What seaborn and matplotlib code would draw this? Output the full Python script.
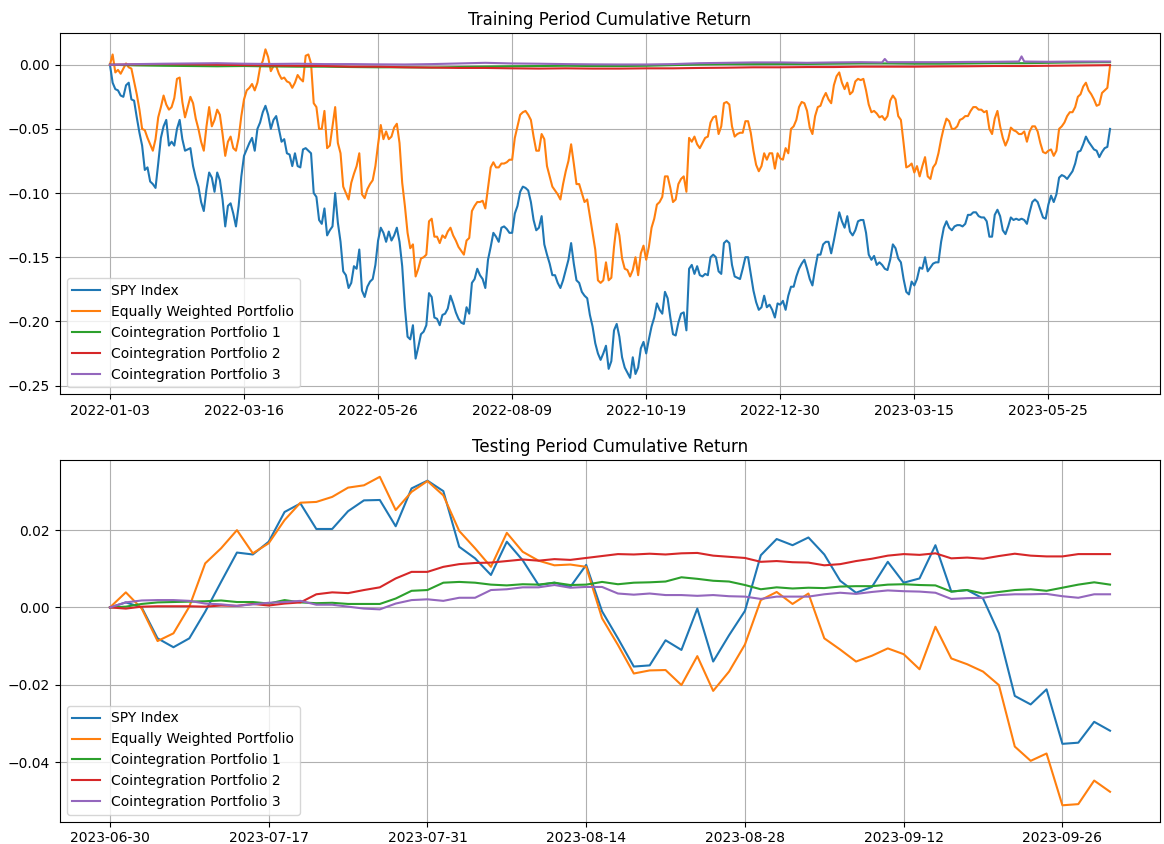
import numpy as np
import pandas as pd
import seaborn as sns
import matplotlib
matplotlib.use("Agg")
import matplotlib.pyplot as plt

#%%  values (cumulative returns)

series_names = ['SPY Index', 'Equally Weighted Portfolio', 'Cointegration Portfolio 1',
                'Cointegration Portfolio 2', 'Cointegration Portfolio 3']

train_tick_labels = ['2022-01-03', '2022-03-16', '2022-05-26', '2022-08-09',
                     '2022-10-19', '2022-12-30', '2023-03-15', '2023-05-25']
test_tick_labels = ['2023-06-30', '2023-07-17', '2023-07-31', '2023-08-14',
                    '2023-08-28', '2023-09-12', '2023-09-26']

# training period, one value per trading day (374 days)
train_spy = [
    0.000, -0.014, -0.019, -0.020, -0.024, -0.025, -0.016, -0.014, -0.027, -0.028,
    -0.041, -0.053, -0.063, -0.082, -0.080, -0.091, -0.093, -0.096, -0.077, -0.057,
    -0.048, -0.043, -0.063, -0.060, -0.063, -0.050, -0.043, -0.058, -0.067, -0.066,
    -0.065, -0.079, -0.088, -0.095, -0.107, -0.114, -0.097, -0.084, -0.088, -0.099,
    -0.084, -0.090, -0.105, -0.126, -0.110, -0.108, -0.116, -0.126, -0.110, -0.087,
    -0.071, -0.066, -0.061, -0.057, -0.067, -0.050, -0.045, -0.037, -0.032, -0.039,
    -0.050, -0.043, -0.040, -0.050, -0.060, -0.058, -0.069, -0.070, -0.079, -0.069,
    -0.079, -0.080, -0.066, -0.065, -0.067, -0.069, -0.100, -0.103, -0.121, -0.124,
    -0.112, -0.133, -0.129, -0.126, -0.100, -0.123, -0.138, -0.161, -0.164, -0.174,
    -0.170, -0.157, -0.159, -0.144, -0.176, -0.181, -0.173, -0.169, -0.167, -0.156,
    -0.137, -0.127, -0.131, -0.138, -0.130, -0.137, -0.133, -0.127, -0.138, -0.157,
    -0.189, -0.212, -0.214, -0.203, -0.229, -0.220, -0.210, -0.208, -0.203, -0.178,
    -0.181, -0.197, -0.198, -0.203, -0.195, -0.194, -0.190, -0.180, -0.186, -0.193,
    -0.198, -0.201, -0.202, -0.189, -0.194, -0.170, -0.167, -0.159, -0.164, -0.167,
    -0.174, -0.152, -0.142, -0.131, -0.134, -0.138, -0.127, -0.126, -0.128, -0.131,
    -0.131, -0.116, -0.110, -0.099, -0.095, -0.096, -0.098, -0.107, -0.121, -0.129,
    -0.127, -0.118, -0.140, -0.148, -0.155, -0.164, -0.164, -0.170, -0.174, -0.168,
    -0.160, -0.152, -0.139, -0.155, -0.168, -0.170, -0.177, -0.180, -0.182, -0.195,
    -0.204, -0.217, -0.225, -0.230, -0.225, -0.219, -0.237, -0.231, -0.207, -0.202,
    -0.212, -0.228, -0.236, -0.240, -0.244, -0.228, -0.241, -0.236, -0.221, -0.216,
    -0.225, -0.214, -0.204, -0.197, -0.186, -0.191, -0.194, -0.177, -0.182, -0.197,
    -0.210, -0.211, -0.201, -0.194, -0.193, -0.207, -0.159, -0.156, -0.163, -0.157,
    -0.164, -0.165, -0.163, -0.164, -0.150, -0.148, -0.150, -0.161, -0.163, -0.139,
    -0.137, -0.139, -0.156, -0.165, -0.166, -0.167, -0.159, -0.150, -0.150, -0.163,
    -0.176, -0.185, -0.191, -0.189, -0.180, -0.189, -0.187, -0.191, -0.197, -0.186,
    -0.187, -0.184, -0.191, -0.180, -0.173, -0.173, -0.165, -0.159, -0.155, -0.152,
    -0.159, -0.167, -0.172, -0.159, -0.148, -0.148, -0.140, -0.138, -0.138, -0.147,
    -0.137, -0.126, -0.115, -0.122, -0.127, -0.118, -0.130, -0.133, -0.129, -0.122,
    -0.121, -0.121, -0.131, -0.148, -0.152, -0.149, -0.156, -0.154, -0.156, -0.159,
    -0.160, -0.152, -0.140, -0.143, -0.151, -0.154, -0.167, -0.177, -0.179, -0.169,
    -0.172, -0.167, -0.158, -0.159, -0.150, -0.161, -0.158, -0.155, -0.154, -0.154,
    -0.138, -0.127, -0.122, -0.127, -0.129, -0.126, -0.125, -0.125, -0.126, -0.124,
    -0.117, -0.117, -0.115, -0.115, -0.118, -0.119, -0.119, -0.122, -0.134, -0.134,
    -0.117, -0.113, -0.118, -0.129, -0.132, -0.126, -0.119, -0.121, -0.120, -0.121,
    -0.120, -0.121, -0.124, -0.115, -0.107, -0.105, -0.107, -0.113, -0.119, -0.120,
    -0.109, -0.102, -0.107, -0.101, -0.088, -0.086, -0.087, -0.089, -0.086, -0.083,
    -0.077, -0.068, -0.067, -0.062, -0.056, -0.060, -0.063, -0.066, -0.067, -0.072,
    -0.068, -0.065, -0.064, -0.050,
]

train_ew = [
    0.000, 0.008, -0.006, -0.004, -0.007, -0.003, 0.001, -0.002, -0.003, -0.013,
    -0.023, -0.035, -0.050, -0.051, -0.057, -0.062, -0.067, -0.058, -0.041, -0.033,
    -0.024, -0.031, -0.035, -0.033, -0.026, -0.011, -0.010, -0.029, -0.041, -0.033,
    -0.025, -0.030, -0.042, -0.050, -0.060, -0.067, -0.048, -0.033, -0.048, -0.043,
    -0.035, -0.039, -0.054, -0.071, -0.060, -0.056, -0.065, -0.067, -0.057, -0.040,
    -0.027, -0.020, -0.018, -0.015, -0.020, -0.014, -0.002, 0.003, 0.012, 0.006,
    -0.005, -0.001, -0.001, -0.007, -0.011, -0.010, -0.013, -0.014, -0.018, -0.014,
    -0.008, -0.011, -0.013, 0.007, 0.008, 0.001, -0.030, -0.033, -0.050, -0.050,
    -0.036, -0.065, -0.063, -0.048, -0.033, -0.061, -0.069, -0.095, -0.100, -0.105,
    -0.092, -0.085, -0.079, -0.069, -0.101, -0.104, -0.097, -0.093, -0.090, -0.079,
    -0.062, -0.047, -0.058, -0.052, -0.058, -0.056, -0.049, -0.046, -0.061, -0.092,
    -0.110, -0.131, -0.143, -0.140, -0.165, -0.159, -0.151, -0.150, -0.148, -0.122,
    -0.120, -0.134, -0.134, -0.139, -0.133, -0.135, -0.130, -0.127, -0.133, -0.137,
    -0.142, -0.145, -0.148, -0.137, -0.135, -0.114, -0.110, -0.107, -0.107, -0.106,
    -0.112, -0.096, -0.080, -0.076, -0.080, -0.080, -0.077, -0.077, -0.076, -0.074,
    -0.074, -0.057, -0.048, -0.039, -0.037, -0.036, -0.039, -0.043, -0.056, -0.067,
    -0.067, -0.054, -0.058, -0.079, -0.087, -0.095, -0.098, -0.101, -0.105, -0.093,
    -0.083, -0.075, -0.062, -0.077, -0.093, -0.093, -0.100, -0.107, -0.105, -0.118,
    -0.131, -0.144, -0.168, -0.170, -0.168, -0.154, -0.168, -0.166, -0.142, -0.124,
    -0.133, -0.151, -0.159, -0.160, -0.165, -0.160, -0.150, -0.164, -0.147, -0.141,
    -0.152, -0.142, -0.127, -0.120, -0.109, -0.107, -0.103, -0.087, -0.087, -0.096,
    -0.107, -0.105, -0.093, -0.089, -0.087, -0.099, -0.057, -0.060, -0.056, -0.062,
    -0.065, -0.061, -0.057, -0.056, -0.045, -0.041, -0.040, -0.054, -0.048, -0.030,
    -0.029, -0.031, -0.048, -0.056, -0.054, -0.053, -0.053, -0.044, -0.044, -0.053,
    -0.067, -0.078, -0.083, -0.079, -0.069, -0.074, -0.069, -0.069, -0.081, -0.069,
    -0.073, -0.074, -0.065, -0.069, -0.050, -0.048, -0.043, -0.033, -0.029, -0.030,
    -0.036, -0.049, -0.054, -0.040, -0.033, -0.032, -0.026, -0.022, -0.027, -0.030,
    -0.016, -0.009, -0.006, -0.014, -0.019, -0.014, -0.023, -0.021, -0.013, -0.011,
    -0.012, -0.011, -0.020, -0.031, -0.037, -0.036, -0.038, -0.041, -0.040, -0.043,
    -0.040, -0.028, -0.024, -0.027, -0.040, -0.043, -0.061, -0.080, -0.079, -0.077,
    -0.084, -0.079, -0.087, -0.079, -0.072, -0.087, -0.089, -0.080, -0.077, -0.069,
    -0.058, -0.049, -0.042, -0.044, -0.050, -0.050, -0.048, -0.043, -0.042, -0.040,
    -0.040, -0.036, -0.033, -0.033, -0.035, -0.035, -0.037, -0.036, -0.050, -0.054,
    -0.042, -0.036, -0.048, -0.057, -0.063, -0.058, -0.049, -0.051, -0.052, -0.054,
    -0.054, -0.052, -0.060, -0.052, -0.048, -0.048, -0.052, -0.061, -0.068, -0.069,
    -0.067, -0.066, -0.071, -0.067, -0.050, -0.048, -0.045, -0.040, -0.037, -0.037,
    -0.033, -0.025, -0.023, -0.017, -0.014, -0.020, -0.023, -0.027, -0.032, -0.031,
    -0.022, -0.020, -0.018, -0.001,
]

# the cointegration portfolios barely move in training, read at fewer days
train_coint_days = [0, 10, 20, 30, 40, 50, 60, 70, 80, 90, 100, 110, 120, 130, 140,
                    150, 160, 170, 180, 190, 200, 210, 220, 230, 240, 250, 260, 270,
                    280, 288, 289, 290, 300, 310, 320, 330, 339, 340, 341, 350, 360,
                    370, 373]
train_coint1 = [0.0, -0.0005, -0.0008, -0.0010, -0.0012, -0.0010, -0.0013, -0.0015,
                -0.0015, -0.0018, -0.0020, -0.0020, -0.0022, -0.0018, -0.0015, -0.0012,
                -0.0010, -0.0008, -0.0010, -0.0010, -0.0008, -0.0003, 0.0002, 0.0005,
                0.0005, 0.0006, 0.0006, 0.0008, 0.0010, 0.0010, 0.0010, 0.0010, 0.0008,
                0.0008, 0.0010, 0.0012, 0.0012, 0.0012, 0.0012, 0.0015, 0.0018, 0.0020,
                0.0020]
train_coint2 = [0.0, 0.0003, 0.0005, 0.0003, 0.0000, -0.0003, -0.0006, -0.0008,
                -0.0010, -0.0015, -0.0015, -0.0020, -0.0022, -0.0025, -0.0025, -0.0028,
                -0.0030, -0.0028, -0.0030, -0.0030, -0.0028, -0.0028, -0.0025, -0.0023,
                -0.0020, -0.0020, -0.0018, -0.0018, -0.0015, -0.0015, -0.0015, -0.0015,
                -0.0015, -0.0013, -0.0012, -0.0010, -0.0010, -0.0010, -0.0010, -0.0008,
                -0.0006, -0.0004, -0.0003]
train_coint3 = [0.0, 0.0005, 0.0008, 0.0010, 0.0012, 0.0008, 0.0006, 0.0008, 0.0005,
                0.0005, 0.0003, 0.0002, 0.0005, 0.0010, 0.0015, 0.0010, 0.0008, 0.0005,
                0.0003, 0.0002, 0.0002, 0.0005, 0.0012, 0.0015, 0.0018, 0.0018, 0.0015,
                0.0018, 0.0020, 0.0018, 0.0045, 0.0020, 0.0020, 0.0020, 0.0022, 0.0023,
                0.0025, 0.0065, 0.0025, 0.0023, 0.0025, 0.0025, 0.0025]

# testing period, one value per trading day (64 days)
test_spy = [
    0.0000, 0.0013, 0.0000, -0.0080, -0.0103, -0.0080, -0.0011, 0.0066, 0.0142, 0.0137,
    0.0170, 0.0247, 0.0269, 0.0203, 0.0203, 0.0249, 0.0277, 0.0278, 0.0210, 0.0308,
    0.0328, 0.0301, 0.0157, 0.0127, 0.0084, 0.0170, 0.0122, 0.0058, 0.0064, 0.0053,
    0.0110, -0.0010, -0.0080, -0.0153, -0.0150, -0.0085, -0.0110, -0.0003, -0.0140, -0.0072,
    -0.0009, 0.0135, 0.0177, 0.0161, 0.0181, 0.0137, 0.0069, 0.0038, 0.0053, 0.0118,
    0.0064, 0.0075, 0.0161, 0.0041, 0.0045, 0.0023, -0.0067, -0.0229, -0.0251, -0.0212,
    -0.0353, -0.0350, -0.0296, -0.0319,
]
test_ew = [
    0.0000, 0.0039, -0.0003, -0.0087, -0.0067, 0.0002, 0.0114, 0.0153, 0.0200, 0.0140,
    0.0166, 0.0226, 0.0271, 0.0273, 0.0286, 0.0310, 0.0316, 0.0338, 0.0252, 0.0299,
    0.0327, 0.0290, 0.0198, 0.0153, 0.0105, 0.0193, 0.0144, 0.0121, 0.0109, 0.0111,
    0.0105, -0.0028, -0.0097, -0.0171, -0.0163, -0.0162, -0.0201, -0.0126, -0.0216, -0.0166,
    -0.0096, 0.0019, 0.0040, 0.0009, 0.0036, -0.0080, -0.0109, -0.0140, -0.0125, -0.0106,
    -0.0121, -0.0160, -0.0050, -0.0132, -0.0147, -0.0166, -0.0201, -0.0360, -0.0397, -0.0378,
    -0.0512, -0.0509, -0.0448, -0.0477,
]
test_coint1 = [
    0.0000, 0.0002, 0.0009, 0.0013, 0.0014, 0.0015, 0.0016, 0.0018, 0.0014, 0.0014,
    0.0010, 0.0019, 0.0013, 0.0011, 0.0012, 0.0009, 0.0009, 0.0009, 0.0023, 0.0043,
    0.0045, 0.0064, 0.0066, 0.0064, 0.0059, 0.0057, 0.0060, 0.0059, 0.0064, 0.0058,
    0.0059, 0.0066, 0.0060, 0.0064, 0.0065, 0.0067, 0.0078, 0.0074, 0.0069, 0.0067,
    0.0058, 0.0047, 0.0052, 0.0049, 0.0051, 0.0050, 0.0054, 0.0055, 0.0055, 0.0059,
    0.0060, 0.0058, 0.0057, 0.0041, 0.0045, 0.0036, 0.0040, 0.0045, 0.0047, 0.0043,
    0.0051, 0.0059, 0.0065, 0.0059,
]
test_coint2 = [
    0.0000, -0.0003, 0.0002, 0.0003, 0.0003, 0.0003, 0.0002, 0.0005, 0.0004, 0.0009,
    0.0005, 0.0010, 0.0013, 0.0034, 0.0039, 0.0037, 0.0045, 0.0052, 0.0075, 0.0092,
    0.0092, 0.0105, 0.0112, 0.0115, 0.0116, 0.0120, 0.0124, 0.0121, 0.0125, 0.0123,
    0.0128, 0.0133, 0.0138, 0.0137, 0.0139, 0.0137, 0.0140, 0.0141, 0.0134, 0.0131,
    0.0128, 0.0118, 0.0120, 0.0117, 0.0116, 0.0109, 0.0112, 0.0120, 0.0126, 0.0134,
    0.0138, 0.0136, 0.0140, 0.0127, 0.0129, 0.0126, 0.0133, 0.0139, 0.0134, 0.0132,
    0.0132, 0.0138, 0.0138, 0.0138,
]
test_coint3 = [
    0.0000, 0.0013, 0.0018, 0.0019, 0.0019, 0.0017, 0.0010, 0.0008, 0.0004, 0.0008,
    0.0012, 0.0014, 0.0017, 0.0007, 0.0007, 0.0002, -0.0003, -0.0005, 0.0010, 0.0019,
    0.0021, 0.0017, 0.0025, 0.0025, 0.0045, 0.0047, 0.0052, 0.0052, 0.0058, 0.0051,
    0.0053, 0.0053, 0.0036, 0.0033, 0.0036, 0.0032, 0.0032, 0.0030, 0.0032, 0.0029,
    0.0028, 0.0022, 0.0028, 0.0028, 0.0028, 0.0034, 0.0038, 0.0035, 0.0040, 0.0044,
    0.0042, 0.0041, 0.0038, 0.0022, 0.0024, 0.0025, 0.0032, 0.0034, 0.0034, 0.0035,
    0.0029, 0.0025, 0.0034, 0.0034,
]

#%%  plotting

colors = sns.color_palette('tab10', 5)

fig, axes = plt.subplots(2, 1, figsize=(11.64, 8.44), dpi=100)
fig.subplots_adjust(left=0.0515, right=0.9966, top=0.961, bottom=0.0264, hspace=0.183)

# top: training period
ax = axes[0]
train_days = np.arange(len(train_spy))
sns.lineplot(x=train_days, y=train_spy, ax=ax, color=colors[0], label=series_names[0])
sns.lineplot(x=train_days, y=train_ew, ax=ax, color=colors[1], label=series_names[1])
sns.lineplot(x=train_coint_days, y=train_coint1, ax=ax, color=colors[2], label=series_names[2])
sns.lineplot(x=train_coint_days, y=train_coint2, ax=ax, color=colors[3], label=series_names[3])
sns.lineplot(x=train_coint_days, y=train_coint3, ax=ax, color=colors[4], label=series_names[4])
ax.set_xticks(np.arange(0, len(train_spy), 50))
ax.set_xticklabels(train_tick_labels)
ax.set_title('Training Period Cumulative Return', fontsize=12)
ax.grid(True)
ax.legend(loc='lower left')
ax.set_xlabel('')
ax.set_ylabel('')

# bottom: testing period
ax = axes[1]
test_days = np.arange(len(test_spy))
test_series = [test_spy, test_ew, test_coint1, test_coint2, test_coint3]
for i, vals in enumerate(test_series):
    sns.lineplot(x=test_days, y=vals, ax=ax, color=colors[i], label=series_names[i])
ax.set_xticks(np.arange(0, len(test_spy), 10))
ax.set_xticklabels(test_tick_labels)
ax.set_title('Testing Period Cumulative Return', fontsize=12)
ax.grid(True)
ax.legend(loc='lower left')
ax.set_xlabel('')
ax.set_ylabel('')

fig.savefig('out.png', dpi=100)
